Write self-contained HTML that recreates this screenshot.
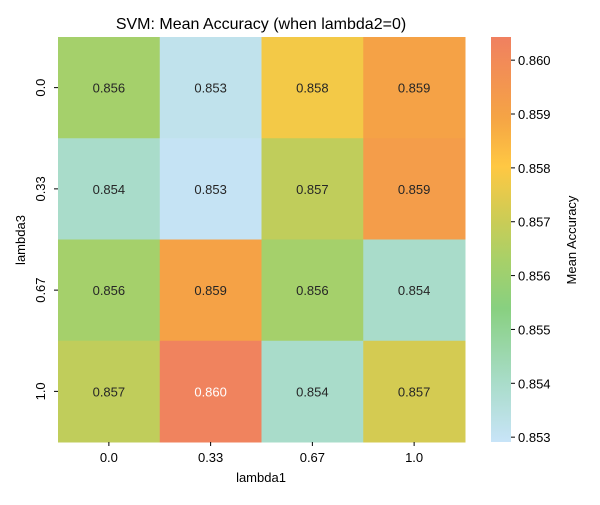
<!DOCTYPE html>
<html><head><meta charset="utf-8"><style>
body{margin:0;background:#fff;font-family:"Liberation Sans","DejaVu Sans",sans-serif;}
svg text{font-family:"Liberation Sans","DejaVu Sans",sans-serif;}
</style></head><body>
<svg id="chart" width="600" height="500" viewBox="0 0 600 500">
<defs>
<linearGradient id="cbg" x1="0" y1="1" x2="0" y2="0">
<stop offset="0" stop-color="#c8e4f8"/><stop offset="0.15" stop-color="#a8dcc8"/>
<stop offset="0.33" stop-color="#88d080"/><stop offset="0.45" stop-color="#a8d068"/>
<stop offset="0.55" stop-color="#cccc55"/><stop offset="0.68" stop-color="#ffc843"/>
<stop offset="0.8" stop-color="#f5a445"/><stop offset="1" stop-color="#f08060"/>
</linearGradient>
</defs>
<text x="261" y="29" font-size="16" text-anchor="middle">SVM: Mean Accuracy (when lambda2=0)</text>
<g id="cells"></g>
<g id="axes"></g>
<rect x="491" y="37" width="20" height="405" fill="url(#cbg)"/>
<g id="cbticks"></g>
<text x="0" y="0" font-size="13" text-anchor="middle" transform="translate(576,240) rotate(-90)">Mean Accuracy</text>
<text x="261" y="482" font-size="13" text-anchor="middle">lambda1</text>
<text x="0" y="0" font-size="13" text-anchor="middle" transform="translate(25,240) rotate(-90)">lambda3</text>
</svg>
<script>
const xCats=["0.0","0.33","0.67","1.0"];
const yCats=["0.0","0.33","0.67","1.0"];
const values=[
[0.8562,0.8532,0.8578,0.8590],
[0.8540,0.8530,0.8568,0.8592],
[0.8562,0.8590,0.8562,0.8540],
[0.8568,0.8603,0.8540,0.8572]];
const cbTicks=[0.853,0.854,0.855,0.856,0.857,0.858,0.859,0.860];
const vmin=0.85291,vmax=0.86043;
const X0=58,X1=465,Y0=37,Y1=442;
const ns="http://www.w3.org/2000/svg";
const stops=[[0,[200,228,248]],[0.15,[168,220,200]],[0.33,[136,208,128]],[0.45,[168,208,104]],[0.55,[204,204,85]],[0.68,[255,200,67]],[0.8,[245,164,69]],[1,[240,128,96]]];
function cmap(v){let t=Math.max(0,Math.min(1,(v-vmin)/(vmax-vmin)));for(let i=1;i<stops.length;i++){if(t<=stops[i][0]){const a=stops[i-1],b=stops[i];const f=(t-a[0])/(b[0]-a[0]);return 'rgb('+a[1].map((c,k)=>Math.round(c+(b[1][k]-c)*f)).join(',')+')';}}return 'rgb(240,128,96)';}
function xs(i){return X0+(X1-X0)*i/xCats.length;}
function ys(j){return Y0+(Y1-Y0)*j/yCats.length;}
function cy(v){return Y1-(v-vmin)/(vmax-vmin)*(Y1-Y0);}
function mk(t,a,p){const e=document.createElementNS(ns,t);for(const k in a)e.setAttribute(k,a[k]);p.appendChild(e);return e;}
const cells=document.getElementById('cells'),axes=document.getElementById('axes'),cbt=document.getElementById('cbticks');
const cw=(X1-X0)/xCats.length,ch=(Y1-Y0)/yCats.length;
values.forEach((row,j)=>row.forEach((v,i)=>{
 const r=mk('rect',{x:xs(i),y:ys(j),width:cw+0.5,height:ch+0.5,fill:cmap(v)},cells);
 
 
 const t=mk('text',{x:xs(i)+cw/2,y:ys(j)+ch/2+5,'font-size':13,'text-anchor':'middle',fill:(v>0.8598?'#fff':'#262626')},cells);
 t.textContent=v.toFixed(3);
 
 
}));
xCats.forEach((c,i)=>{const x=xs(i)+cw/2;mk('line',{x1:x,x2:x,y1:Y1,y2:Y1+4,stroke:'#000'},axes);
 const t=mk('text',{x:x,y:Y1+20,'font-size':13,'text-anchor':'middle'},axes);t.textContent=c;
 
 });
yCats.forEach((c,j)=>{const y=ys(j)+ch/2;mk('line',{x1:X0-4,x2:X0,y1:y,y2:y,stroke:'#000'},axes);
 const t=mk('text',{x:0,y:0,'font-size':13,'text-anchor':'middle',transform:'translate('+(X0-13)+','+y+') rotate(-90)'},axes);t.textContent=c;
 
 });
cbTicks.forEach(v=>{const y=cy(v);mk('line',{x1:511,x2:515,y1:y,y2:y,stroke:'#000'},cbt);
 const t=mk('text',{x:518,y:y+5,'font-size':13},cbt);t.textContent=v.toFixed(3);
 
 });
</script>
</body></html>
